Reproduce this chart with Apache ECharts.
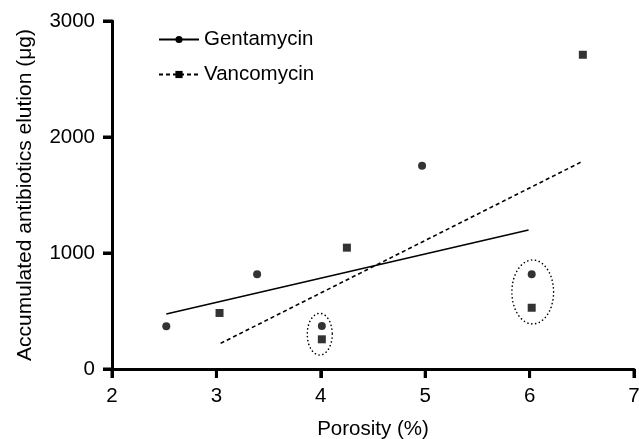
<!DOCTYPE html>
<html>
<head>
<meta charset="utf-8">
<script src="https://cdn.jsdelivr.net/npm/echarts@6/dist/echarts.min.js"></script>
<style>
  html, body { margin: 0; padding: 0; background: #fff; }
  #chart { width: 639px; height: 439px; }
</style>
</head>
<body>
<div id="chart"></div>
<script>
// measured points (porosity %, elution ug)
var gentaPoints = [[2.52, 368], [3.39, 816], [4.01, 370], [4.97, 1752], [6.02, 816]];
var vancoPoints = [[3.03, 483], [4.25, 1046], [4.01, 256], [6.02, 528], [6.51, 2709]];
// fitted lines, end points
var gentaFit = [[2.52, 474], [5.99, 1198]];
var vancoFit = [[3.04, 221], [6.50, 1787]];
// dotted ellipses: centre x, centre y, half width, half height (data units)
var ellipses = [[3.99, 300, 0.12, 180], [6.03, 664, 0.2, 276]];
// tick positions
var xTicks = [2, 3, 4, 5, 6, 7];
var yTicks = [0, 1000, 2000, 3000];

var font = 'Liberation Sans, Arial, sans-serif';
var txt = { color: '#000', fontSize: 20.5, fontFamily: font };

var chart = echarts.init(document.getElementById('chart'));

var option = {
    animation: false,
    backgroundColor: '#fff',
    grid: { left: 112, right: 5, top: 21, bottom: 70, containLabel: false, outerBoundsMode: 'none' },
    legend: {
        orient: 'vertical',
        left: 153,
        top: 24,
        itemWidth: 40,
        itemHeight: 9,
        itemGap: 14,
        textStyle: txt,
        data: ['Gentamycin', 'Vancomycin']
    },
    xAxis: {
        type: 'value', min: 2, max: 7, interval: 1,
        name: 'Porosity (%)', nameLocation: 'middle', nameGap: 50,
        nameTextStyle: txt,
        axisLine: { lineStyle: { color: '#000', width: 3 } },
        axisTick: { show: true, length: 9, lineStyle: { color: '#000', width: 3 } },
        axisLabel: { color: '#000', fontSize: 20.5, fontFamily: font, margin: 17 },
        splitLine: { show: false }
    },
    yAxis: {
        type: 'value', min: 0, max: 3000, interval: 1000,
        name: 'Accumulated antibiotics elution (\u03bcg)', nameLocation: 'middle', nameGap: 76,
        nameTextStyle: { color: '#000', fontSize: 21, fontFamily: font },
        axisLine: { lineStyle: { color: '#000', width: 3 } },
        axisTick: { show: true, length: 9, lineStyle: { color: '#000', width: 3 } },
        axisLabel: {
            color: '#000', fontSize: 20.5, fontFamily: font, margin: 17,
            formatter: function (v) { return String(v); }
        },
        splitLine: { show: false }
    },
    series: [
        {
            name: 'Gentamycin', type: 'line', data: gentaFit,
            symbol: 'circle', symbolSize: 8, showSymbol: false,
            itemStyle: { color: '#000' },
            lineStyle: { color: '#000', width: 1.6, type: 'solid' }
        },
        {
            name: 'Vancomycin', type: 'line', data: vancoFit,
            symbol: 'rect', symbolSize: 8, showSymbol: false,
            itemStyle: { color: '#000' },
            lineStyle: { color: '#000', width: 1.6, type: [4, 3] }
        },
        {
            name: 'Gentamycin', type: 'scatter', data: gentaPoints,
            symbol: 'circle', symbolSize: 8, itemStyle: { color: '#000' }
        },
        {
            name: 'Vancomycin', type: 'scatter', data: vancoPoints,
            symbol: 'rect', symbolSize: 8, itemStyle: { color: '#000' }
        },
        {
            name: 'groups', type: 'custom', data: ellipses, silent: true,
            renderItem: function (params, api) {
                var c = api.coord([api.value(0), api.value(1)]);
                var s = api.size([api.value(2), api.value(3)]);
                var pts = [];
                for (var i = 0; i < 60; i++) {
                    var a = i / 60 * Math.PI * 2;
                    pts.push([c[0] + s[0] * Math.cos(a), c[1] + s[1] * Math.sin(a)]);
                }
                return {
                    type: 'polygon',
                    shape: { points: pts },
                    style: { fill: null, stroke: '#000', lineWidth: 1.6, lineDash: [0.1, 3.8], lineCap: 'round' }
                };
            }
        },
        // outward tick marks as offset bar symbols on the axes
        {
            name: 'xticks', type: 'scatter', silent: true, clip: false, z: 10,
            data: xTicks.map(function (v) { return [v, 0]; }),
            symbol: 'rect', symbolSize: [3, 9], symbolOffset: [0, 4.5],
            itemStyle: { color: '#000', opacity: 1 }
        },
        {
            name: 'yticks', type: 'scatter', silent: true, clip: false, z: 10,
            data: yTicks.map(function (v) { return [2, v]; }),
            symbol: 'rect', symbolSize: [9, 3], symbolOffset: [-4.5, 0],
            itemStyle: { color: '#000', opacity: 1 }
        }
    ]
};

chart.setOption(option);
</script>
</body>
</html>
